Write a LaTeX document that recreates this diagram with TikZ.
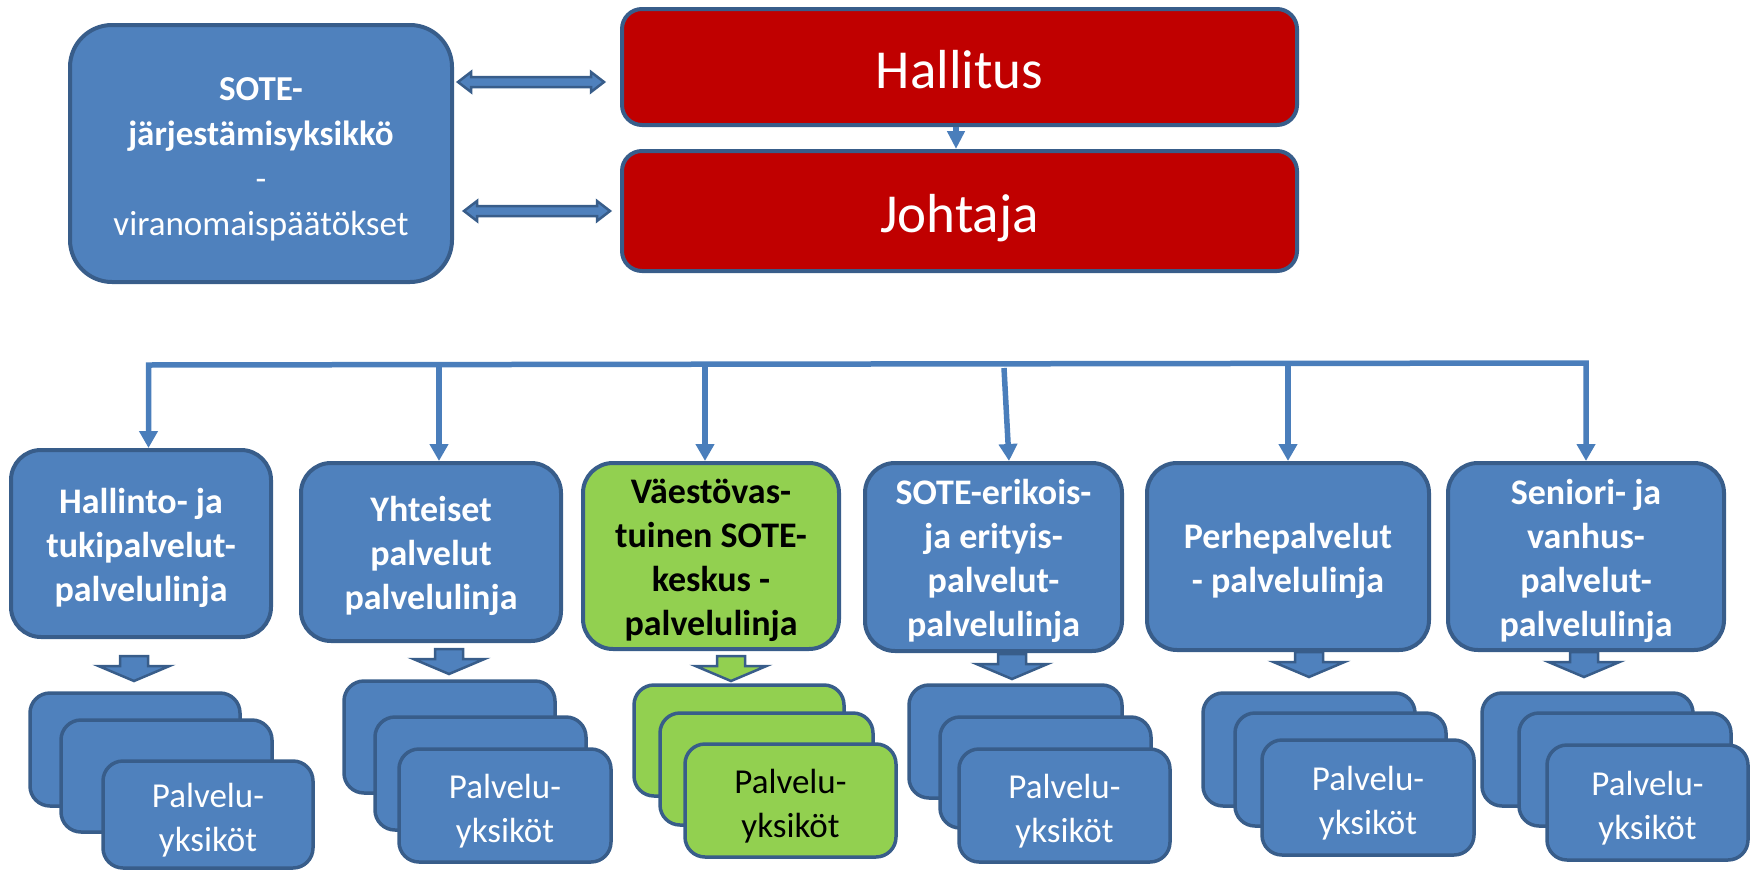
\documentclass[tikz,border=0pt]{standalone}
\usepackage{fontspec}
\setmainfont{Carlito}
\usetikzlibrary{arrows.meta}
\definecolor{obl}{HTML}{4F81BD}
\definecolor{odk}{HTML}{385D8A}
\definecolor{ored}{HTML}{C00000}
\definecolor{ogr}{HTML}{92D050}
\definecolor{lnc}{HTML}{4A7EBB}
\newcommand\dnarrow[3]{\draw[blk, fill=#3] ({#1-14},#2) -- ({#1+14},#2) -- ({#1+14},{#2+10}) -- ({#1+35.5},{#2+10}) -- (#1,{#2+25}) -- ({#1-35.5},{#2+10}) -- ({#1-14},{#2+10}) -- cycle;}
\newcommand\dblarrow[3]{\draw[blk, fill=obl] (#1,#3) -- ({#1+13},{#3-10}) -- ({#1+13},{#3-5}) -- ({#2-13},{#3-5}) -- ({#2-13},{#3-10}) -- (#2,#3) -- ({#2-13},{#3+10}) -- ({#2-13},{#3+5}) -- ({#1+13},{#3+5}) -- ({#1+13},{#3+10}) -- cycle;}
\newcommand\bx[7]{%
  \pgfmathsetmacro\bxw{#5-#3}\pgfmathsetmacro\bxh{#6-#4}%
  \node[#1, minimum width=\bxw pt, minimum height=\bxh pt] (#2) at ({(#3+#5)/2},{(#4+#6)/2}) {#7};}
\newcommand\pu{\rule{0pt}{36pt}Palvelu-\\yksiköt}
\newcommand\lup{\rule{0pt}{34pt}}
\begin{document}
\begin{tikzpicture}[x=1pt,y=-1pt,
  base/.style={draw=odk, line width=3.5pt, inner sep=0pt, align=center},
  bluebox/.style={base, fill=obl, text=white},
  greenbox/.style={base, fill=ogr, text=black},
  redbox/.style={base, line width=4pt, fill=ored, text=white, rounded corners=20pt, font=\fontsize{55}{66}\selectfont, text height=42pt, text depth=0pt},
  orgbox/.style={bluebox, line width=4pt, rounded corners=42pt, font=\fontsize{35}{45}\selectfont},
  linebox/.style={line width=4pt, rounded corners=30pt, font=\bfseries\fontsize{36}{44}\selectfont},
  unitbox/.style={rounded corners=20pt, font=\fontsize{35}{44}\selectfont},
  conn/.style={draw=lnc, line width=5.5pt},
  tip/.style={-{Triangle[width=18pt,length=17pt]}},
  blk/.style={draw=odk, line width=2.5pt, line join=miter},
]
\useasboundingbox (0,0) rectangle (1750,870);

% top part
\bx{orgbox}{sote}{70}{25}{452}{282}{\rule{0pt}{34pt}\textbf{SOTE-}\\\textbf{järjestämisyksikkö}\\-\\viranomaispäätökset}
\bx{redbox}{hal}{622}{9}{1297}{125}{Hallitus}
\bx{redbox}{joh}{622}{151}{1297}{271}{Johtaja}
\coordinate (ha) at (956,0);
\draw[conn, line width=6pt, -{Triangle[width=17pt,length=18pt]}] (hal.south -| ha) -- (joh.north -| ha);
\dblarrow{458}{604}{82}
\dblarrow{464}{610}{211}

% service lines
\bx{bluebox, linebox}{h1}{11}{450}{271}{637}{\lup Hallinto- ja\\tukipalvelut-\\palvelulinja}
\bx{bluebox, linebox}{h2}{301}{463}{561}{641}{\lup Yhteiset\\palvelut\\palvelulinja}
\bx{greenbox, linebox}{h3}{583}{463}{839}{649}{\lup Väestövas-\\tuinen SOTE-\\keskus -\\palvelulinja}
\bx{bluebox, linebox}{h4}{865}{463}{1122}{651}{\lup SOTE-erikois-\\ja erityis-\\palvelut-\\palvelulinja}
\bx{bluebox, linebox}{h5}{1147}{463}{1429}{650}{\lup Perhepalvelut\\- palvelulinja}
\bx{bluebox, linebox}{h6}{1448}{463}{1724}{650}{\lup Seniori- ja\\vanhus-\\palvelut-\\palvelulinja}

% bus
\coordinate (b1) at (148.5,365);
\coordinate (b2) at (439,364);
\coordinate (b3) at (705,364);
\coordinate (b4) at (1004,368);
\coordinate (e4) at (1009,0);
\coordinate (b5) at (1288,363);
\coordinate (b6) at (1586,363);
\draw[conn, line join=miter, {Triangle[width=18pt,length=17pt]}-{Triangle[width=18pt,length=17pt]}] (h1.north -| b1) -- (b1) -- (b6) -- (h6.north -| b6);
\draw[conn, tip] (b2) -- (h2.north -| b2);
\draw[conn, tip] (b3) -- (h3.north -| b3);
\draw[conn, tip] (b4) -- (h4.north -| e4);
\draw[conn, tip] (b5) -- (h5.north -| b5);

% down block arrows
\dnarrow{134}{656}{obl}
\dnarrow{449}{649}{obl}
\dnarrow{731}{656}{ogr}
\dnarrow{1012}{654}{obl}
\dnarrow{1309}{652}{obl}
\dnarrow{1584}{652}{obl}

% unit stacks
\bx{bluebox, unitbox}{u1a}{30}{693}{240}{806}{}
\bx{bluebox, unitbox}{u1b}{61}{720}{272}{832}{}
\bx{bluebox, unitbox}{u1c}{103}{761}{313}{868}{\pu}

\bx{bluebox, unitbox}{u2a}{344}{681}{555}{793}{}
\bx{bluebox, unitbox}{u2b}{375}{717}{586}{830}{}
\bx{bluebox, unitbox}{u2c}{399}{749}{611}{862}{\pu}

\bx{greenbox, unitbox}{u3a}{634}{685}{844}{796}{}
\bx{greenbox, unitbox}{u3b}{660}{713}{873}{825}{}
\bx{greenbox, unitbox}{u3c}{685}{744}{896}{857}{\pu}

\bx{bluebox, unitbox}{u4a}{909}{685}{1122}{798}{}
\bx{bluebox, unitbox}{u4b}{940}{717}{1151}{828}{}
\bx{bluebox, unitbox}{u4c}{959}{749}{1170}{862}{\pu}

\bx{bluebox, unitbox}{u5a}{1203}{693}{1415}{806}{}
\bx{bluebox, unitbox}{u5b}{1235}{713}{1446}{826}{}
\bx{bluebox, unitbox}{u5c}{1262}{740}{1474}{855}{\pu}

\bx{bluebox, unitbox}{u6a}{1482}{693}{1693}{806}{}
\bx{bluebox, unitbox}{u6b}{1519}{713}{1731}{826}{}
\bx{bluebox, unitbox}{u6c}{1547}{745}{1748}{860}{\pu}
\end{tikzpicture}
\end{document}
